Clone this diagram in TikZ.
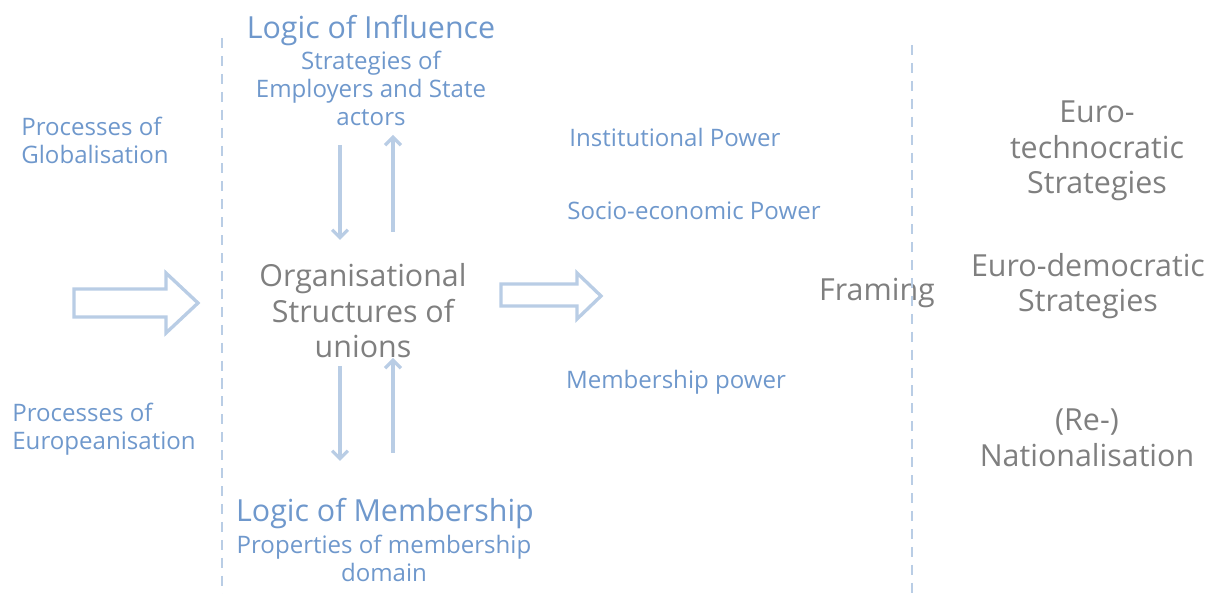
\documentclass[tikz,border=0pt]{standalone}
\usepackage{xcolor}
\usepackage{fontspec}
\setmainfont{Open Sans}
\usepackage{tikz}
\usetikzlibrary{arrows.meta,positioning,calc}
\definecolor{lineblue}{HTML}{B9CDE5}
\definecolor{textblue}{HTML}{6F98CC}
\definecolor{textgrey}{HTML}{7F7F7F}

\begin{document}
\begin{tikzpicture}[x=0.02cm, y=-0.02cm, arrow/.style = {line width=1.9pt, lineblue, -{Straight Barb[length=4.5pt,width=9pt]}}, node distance=2cm]
		\tikzset{big/.style={font=\fontsize{17.3}{20.2}\selectfont, inner sep=0pt, align=center}}
		\tikzset{small/.style={font=\fontsize{13.7}{15.9}\selectfont, inner sep=0pt, align=center}}
		\tikzset{divider/.style={lineblue, line width=1.5pt, dash pattern=on 5.7pt off 4.5pt}}
		\tikzset{blockarrow/.style={lineblue, line width=1.9pt, line join=miter}}
		\useasboundingbox (0,0) rectangle (1215,594);

		\node[big, textblue] (infl) at (371,31) {Logic of Influence};
		\node[small, textblue] (strat) at (371,88) {Strategies of\\Employers and State\\actors};
		\node[big, textgrey] (org) at (363,311) {Organisational\\Structures of\\unions};
		\node[big, textblue] (memb) at (385,514) {Logic of Membership};
		\node[small, textblue] (prop) at (384,558) {Properties of membership\\domain};

		\node[small, textblue, align=left, anchor=west] (glob) at (21,140) {Processes of\\Globalisation};
		\node[small, textblue, align=left, anchor=west] (europ) at (12,429) {Processes of\\Europeanisation};

		\node[small, textblue] (inst) at (675,137) {Institutional Power};
		\node[small, textblue] (socio) at (694,211) {Socio-economic Power};
		\node[small, textblue] (mpower) at (676,382) {Membership power};

		\node[big, textgrey] (framing) at (877,293) {Framing};

		\node[big, textgrey] (techno) at (1097,151) {Euro-\\technocratic\\Strategies};
		\node[big, textgrey] (demo) at (1088,286) {Euro-democratic\\Strategies};
		\node[big, textgrey] (renat) at (1087,438) {(Re-)\\Nationalisation};

		\coordinate (ltop) at (222,38);
		\coordinate (lbot) at (222,594);
		\coordinate (rtop) at (912,45);
		\coordinate (rbot) at (912,594);
		\draw [divider] (ltop) -- (lbot);
		\draw [divider] (rtop) -- (rbot);

		\coordinate (d1s) at (340,145);
		\coordinate (d1e) at (340,240);
		\coordinate (u1s) at (393,232);
		\coordinate (u1e) at (393,135);
		\coordinate (d2s) at (340,366);
		\coordinate (d2e) at (340,461);
		\coordinate (u2s) at (393,453);
		\coordinate (u2e) at (393,358);
		\draw [arrow] (d1s) -- (d1e);
		\draw [arrow] (u1s) -- (u1e);
		\draw [arrow] (d2s) -- (d2e);
		\draw [arrow] (u2s) -- (u2e);

		\draw [blockarrow] (74,289) -- (166,289) -- (166,273) -- (198,303) -- (166,333) -- (166,317) -- (74,317) -- cycle;
		\draw [blockarrow] (501,284) -- (577,284) -- (577,273) -- (601,296) -- (577,319) -- (577,306) -- (501,306) -- cycle;

	\end{tikzpicture}
\end{document}
